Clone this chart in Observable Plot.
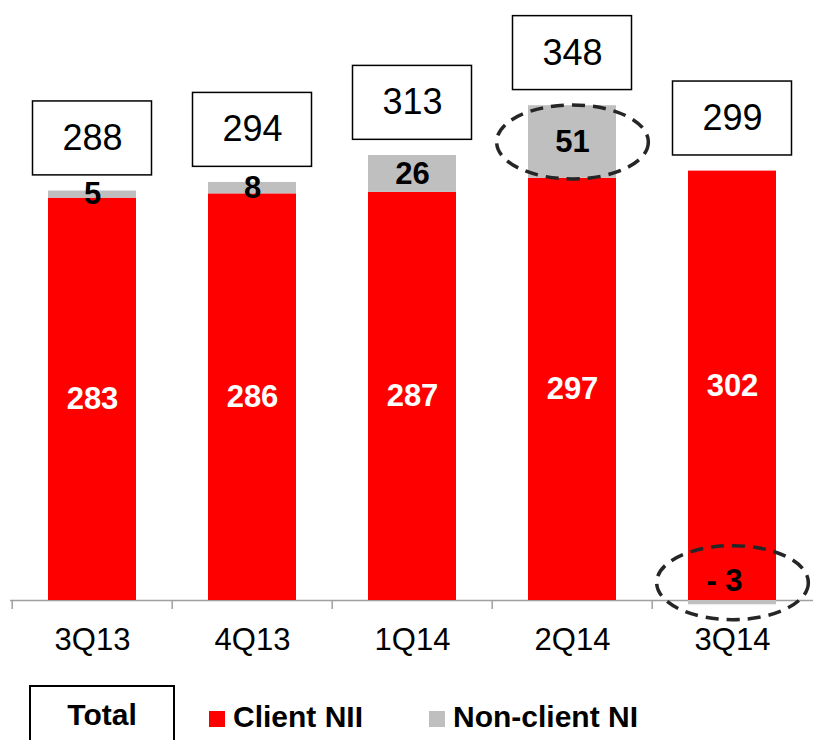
<!DOCTYPE html>
<html>
<head>
<meta charset="utf-8">
<script src="https://cdn.jsdelivr.net/npm/d3@7"></script>
<script src="https://cdn.jsdelivr.net/npm/@observablehq/plot@0.6"></script>
<style>
  html, body { margin: 0; padding: 0; background: #fff; overflow: hidden; }
  body { font-family: "Liberation Sans", Arial, sans-serif; width: 813px; }
  #legend { position: relative; height: 80px; width: 813px; font-weight: bold; font-size: 30px; color: #000; }
  #legend .total { position: absolute; left: 29px; top: 25px; width: 142px; height: 62px; border: 2px solid #000; text-align: center; line-height: 56px; }
  #legend .sw { position: absolute; width: 16px; height: 16px; top: 51px; }
  #legend .lab { position: absolute; top: 42px; line-height: 30px; white-space: nowrap; }
</style>
</head>
<body>
<div id="chart"></div>
<div id="legend"></div>
<script>
const quarters = ["3Q13", "4Q13", "1Q14", "2Q14", "3Q14"];
const clientNII = [283, 286, 287, 297, 302];
const nonClientNI = [5, 8, 26, 51, -3];
const totals = [288, 294, 313, 348, 299];
const seriesNames = ["Client NII", "Non-client NI"];
const seriesColors = ["#ff0000", "#bfbfbf"];
const highlighted = ["2Q14", "3Q14"];
const totalLabel = "Total";

const rows = [];
quarters.forEach((q, i) => {
  rows.push({quarter: q, series: seriesNames[0], value: clientNII[i]});
  rows.push({quarter: q, series: seriesNames[1], value: nonClientNI[i]});
});
const boxes = quarters.map((q, i) => ({
  quarter: q,
  total: totals[i],
  top: Math.max(0, clientNII[i]) + Math.max(0, nonClientNI[i])
}));

const width = 813, height = 660, marginLeft = 10, marginRight = 0, marginTop = 0, marginBottom = 40;
const yDomain = [-14.07, 422];
const ky = (height - marginBottom - marginTop) / (yDomain[1] - yDomain[0]);
const step = (width - marginLeft - marginRight) / quarters.length;
const boxGap = 11, boxH = 52;
const font = "Liberation Sans, Arial, sans-serif";

const ellipse = {
  draw(context, size) {
    const r = Math.sqrt(size / Math.PI);
    const rx = r * 2.05, ry = r, k = 0.5523;
    context.moveTo(rx, 0);
    context.bezierCurveTo(rx, k * ry, k * rx, ry, 0, ry);
    context.bezierCurveTo(-k * rx, ry, -rx, k * ry, -rx, 0);
    context.bezierCurveTo(-rx, -k * ry, -k * rx, -ry, 0, -ry);
    context.bezierCurveTo(k * rx, -ry, rx, -k * ry, rx, 0);
    context.closePath();
  }
};
const isHi = d => highlighted.includes(d.quarter) && d.series === seriesNames[1];
const negDy = -22;

const stackOpts = (extra) => Plot.stackY({x: "quarter", y: "value", z: "series", order: seriesNames, ...extra});

const chart = Plot.plot({
  width, height, marginLeft, marginRight, marginTop, marginBottom,
  style: {fontFamily: font, background: "#fff", overflow: "visible"},
  x: {domain: quarters, paddingInner: 0.45, paddingOuter: 0.225, axis: null},
  y: {domain: yDomain, axis: null},
  r: {type: "identity"},
  color: {domain: seriesNames, range: seriesColors},
  marks: [
    Plot.ruleY([0], {stroke: "#a0a0a0", strokeWidth: 1.5}),
    Plot.ruleX(quarters, {x: d => d, y1: 0, y2: -9 / ky, dx: -step / 2, stroke: "#a0a0a0", strokeWidth: 1.5}),
    Plot.barY(rows, stackOpts({fill: "series"})),
    Plot.axisX({tickSize: 0, tickPadding: 7, fontSize: 31, label: null, fontFamily: font}),
    Plot.text(rows, stackOpts({text: d => d.series === seriesNames[0] ? String(d.value) : null,
      fill: "white", fontWeight: "bold", fontSize: 31, fontFamily: font})),
    Plot.text(rows, stackOpts({text: d => d.series === seriesNames[1] && d.value > 0 ? String(d.value) : null,
      fill: "black", fontWeight: "bold", fontSize: 31, fontFamily: font})),
    Plot.text(rows, stackOpts({text: d => d.series === seriesNames[1] && d.value < 0 ? "- " + Math.abs(d.value) : null,
      fill: "black", fontWeight: "bold", fontSize: 31, fontFamily: font, dy: negDy, dx: -8})),
    Plot.barY(boxes, {x: "quarter", y1: d => d.top + boxGap, y2: d => d.top + boxGap + boxH,
      insetLeft: -15.5, insetRight: -15.5, fill: "white", stroke: "black", strokeWidth: 1.5}),
    Plot.text(boxes, {x: "quarter", y: d => d.top + boxGap + boxH / 2, text: d => String(d.total),
      fontSize: 36, fill: "black", fontFamily: font}),
    Plot.dot(rows, stackOpts({r: d => isHi(d) && d.value > 0 ? 37 : 0, symbol: ellipse,
      fill: "none", stroke: "#262626", strokeWidth: 3.5, strokeDasharray: "13,8"})),
    Plot.dot(rows, stackOpts({r: d => isHi(d) && d.value < 0 ? 37 : 0, symbol: ellipse, dy: negDy + 2,
      fill: "none", stroke: "#262626", strokeWidth: 3.5, strokeDasharray: "13,8"}))
  ]
});
document.getElementById("chart").appendChild(chart);

const legend = document.getElementById("legend");
legend.innerHTML =
  `<div class="total">${totalLabel}</div>` +
  `<div class="sw" style="left:209px;background:${seriesColors[0]}"></div>` +
  `<div class="lab" style="left:233px">${seriesNames[0]}</div>` +
  `<div class="sw" style="left:429px;background:${seriesColors[1]}"></div>` +
  `<div class="lab" style="left:453px">${seriesNames[1]}</div>`;
</script>
</body>
</html>
